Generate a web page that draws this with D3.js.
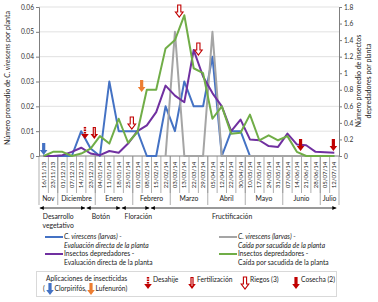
<!DOCTYPE html>
<html><head><meta charset="utf-8">
<script src="https://cdn.jsdelivr.net/npm/d3@7"></script>
<style>
body{margin:0;background:#fff}
svg{display:block;font-family:Lato,'Liberation Sans',Arial,sans-serif;fill:#000}
</style>
</head><body><svg id="c" width="378" height="302"></svg>
<script>
// ---------- data ----------
const dates = ["16/11/13","23/11/13","01/12/13","07/12/13","14/12/13","23/12/13","04/01/14","11/01/14","18/01/14","25/01/14",
  "01/02/14","08/02/14","15/02/14","22/02/14","03/03/14","13/03/14","22/03/14","29/03/14","05/04/14","12/04/14",
  "22/04/14","30/04/14","10/05/14","17/05/14","24/05/14","31/05/14","07/06/14","14/06/14","21/06/14","28/06/14",
  "05/07/14","12/07/14"];
const monthNames = ["Nov","Diciembre","Enero","Febrero","Marzo","Abril","Mayo","Junio","Julio"];
const monthCounts = [2,4,4,4,4,4,4,4,2];
// C. virescens (larvas) - Evaluación directa (left axis)
const larvaeDirect = [0,0,0,0,0.01,0.003,0,0.03,0.01,0.01,0.01,0,0,0.02,0.01,0.03,0.02,0.02,0.04,0,0.01,0.01,0,0,0,0,0,0,0,0,0,0];
// C. virescens (larvas) - Caída por sacudida (left axis)
const larvaeShake = [null,null,null,null,null,null,null,null,null,null,null,null,null,0,0.05,0,0,0,0.05,0,0,0,0,0,0,0,0,0,0,0,0,0];
// Insectos depredadores - Evaluación directa (right axis)
const predDirect = [0,0,0.01,0.05,0.1,0.03,0.01,0.06,0.04,0.15,0.3,0.37,0.53,0.85,0.73,0.65,1.28,0.96,0.76,0.6,0.3,0.44,0.2,0.19,0.12,0.11,0.27,0.14,0.13,0.05,0.045,0.04];
// Insectos depredadores - Caída por sacudida (right axis)
const predShake = [0,0.05,0.05,0,0.03,0.09,0.24,0.15,0.45,0.16,0.29,0.8,0.8,1.3,1.4,1.7,1.06,1.0,0.45,0.6,0.27,0.28,0.5,0.19,0.25,0.19,0.24,0.05,0,0,0,0];
const leftTicks = [0,0.01,0.02,0.03,0.04,0.05,0.06];
const rightTicks = [0,0.2,0.4,0.6,0.8,1,1.2,1.4,1.6,1.8];
// phenological phases, in category units
const phaseNames = [["Desarrollo","vegetativo"],["Botón"],["Floración"],["Fructificación"]];
const phaseStart = [0,5,8.75,11.85];
const phaseEnd = [5,8.75,11.85,31.8];
const phaseLabelAt = [2.05,6.6,10.6,20.6];
// event arrows: type, position (category units), top (left-axis value)
const eventTypes = ["clorpirifos","desahije","fertilizacion","riego","lufenuron","riego","riego","cosecha","cosecha"];
const eventAt = [0.5,4.9,5.9,9.9,10.95,14.96,17.0,27.9,31.4];
const eventTop = [0.0052,0.0117,0.0117,0.0157,0.0306,0.0608,0.0455,0.0068,0.0068];

// ---------- chart ----------
const svg = d3.select("#c");
const L = 39, R = 339, T = 7, B = 156;
const x = d3.scaleBand().domain(dates).range([L,R]).padding(0);
const xu = d3.scaleLinear().domain([0,dates.length]).range([L,R]);
const yL = d3.scaleLinear().domain([0,0.06]).range([B,T]);
const yR = d3.scaleLinear().domain([0,1.8]).range([B,T]);
const cx = d => x(d) + x.bandwidth()/2;

// gridlines
svg.append("g").selectAll("line").data(leftTicks.slice(1)).join("line")
  .attr("x1",L).attr("x2",R).attr("y1",d=>yL(d)).attr("y2",d=>yL(d))
  .attr("stroke","#d9d9d9").attr("stroke-width",0.8);

// axes
const fmt = d => String(d);
const gl = svg.append("g").attr("transform",`translate(${L},0)`)
  .call(d3.axisLeft(yL).tickValues(leftTicks).tickSize(3).tickPadding(2).tickFormat(fmt));
const gr = svg.append("g").attr("transform",`translate(${R},0)`)
  .call(d3.axisRight(yR).tickValues(rightTicks).tickSize(3).tickPadding(2).tickFormat(fmt));
[gl,gr].forEach(g=>{
  g.select(".domain").attr("stroke","#7f7f7f");
  g.selectAll(".tick line").attr("stroke","#7f7f7f");
  g.selectAll("text").attr("font-size",6.6).attr("fill","#333").attr("font-family","Lato,'Liberation Sans',sans-serif");
});

// bottom category axis
const gb = svg.append("g").attr("transform",`translate(0,${B})`)
  .call(d3.axisBottom(x).tickSize(0).tickPadding(0));
gb.select(".domain").remove();
gb.selectAll("text").attr("transform","translate(0,19) rotate(-90)").attr("y",0).attr("dy","0.35em")
  .attr("text-anchor","middle").attr("font-size",6.1).attr("fill","#222")
  .attr("font-family","Lato,'Liberation Sans',sans-serif");
svg.append("line").attr("x1",L).attr("x2",R).attr("y1",B).attr("y2",B).attr("stroke","#7f7f7f");
// separators between dates
svg.append("g").selectAll("line").data(d3.range(1,dates.length)).join("line")
  .attr("x1",d=>xu(d)).attr("x2",d=>xu(d)).attr("y1",B).attr("y2",193)
  .attr("stroke","#8c8c8c").attr("stroke-width",0.7);
// months
let acc = 0; const monthBounds=[0]; monthCounts.forEach(n=>{acc+=n; monthBounds.push(acc);});
svg.append("g").selectAll("line").data(monthBounds).join("line")
  .attr("x1",d=>xu(d)).attr("x2",d=>xu(d)).attr("y1",B).attr("y2",205)
  .attr("stroke","#8c8c8c").attr("stroke-width",0.7);
svg.append("g").selectAll("text").data(monthNames).join("text")
  .attr("x",(d,i)=>(xu(monthBounds[i])+xu(monthBounds[i+1]))/2).attr("y",201)
  .attr("text-anchor","middle").attr("font-size",6.8).attr("fill","#222").text(d=>d);

// phases
const pg = svg.append("g");
phaseStart.forEach((s,i)=>{
  const a = xu(s)+0.8, b = xu(phaseEnd[i])-0.8, yy = 208;
  pg.append("line").attr("x1",a).attr("x2",b).attr("y1",yy).attr("y2",yy).attr("stroke","#000").attr("stroke-width",0.8);
  pg.append("path").attr("d",`M${a},${yy}l4,-2l0,4z`).attr("fill","#000");
  pg.append("path").attr("d",`M${b},${yy}l-4,-2l0,4z`).attr("fill","#000");
  phaseNames[i].forEach((t,j)=>{
    pg.append("text").attr("x",xu(phaseLabelAt[i])).attr("y",219+j*9).attr("text-anchor","middle")
      .attr("font-size",6.8).attr("fill","#222").text(t);
  });
});

// series
const series = [
  {v:larvaeDirect, y:yL, c:"#4472c4"},
  {v:larvaeShake, y:yL, c:"#a5a5a5"},
  {v:predDirect, y:yR, c:"#7030a0"},
  {v:predShake, y:yR, c:"#70ad47"},
];
series.forEach(s=>{
  const line = d3.line().defined(d=>d[1]!==null).x(d=>cx(d[0])).y(d=>s.y(d[1]));
  svg.append("path").datum(dates.map((d,i)=>[d,s.v[i]])).attr("d",line)
    .attr("fill","none").attr("stroke",s.c).attr("stroke-width",2).attr("stroke-linejoin","round");
});

// arrow glyphs
const RED="#c00000", BLUE="#4472c4", ORANGE="#ed7d31";
function arrow(g,xc,top,type){
  const h=12, hh=5, hw=3.8, sw=1.6;
  const p=`M${xc-sw},${top}L${xc+sw},${top}L${xc+sw},${top+h-hh}L${xc+hw},${top+h-hh}L${xc},${top+h}L${xc-hw},${top+h-hh}L${xc-sw},${top+h-hh}Z`;
  if(type==="desahije"){
    [0,2.5,5].forEach(o=>g.append("rect").attr("x",xc-1.2).attr("y",top+o).attr("width",2.4).attr("height",1.6).attr("fill",RED));
    g.append("path").attr("d",`M${xc-hw},${top+h-hh}L${xc+hw},${top+h-hh}L${xc},${top+h}Z`).attr("fill",RED);
  } else if(type==="riego"){
    g.append("path").attr("d",p).attr("fill","#fff").attr("stroke",RED).attr("stroke-width",1.1);
  } else if(type==="fertilizacion"){
    g.append("path").attr("d",p).attr("fill",RED);
    g.append("line").attr("x1",xc).attr("x2",xc).attr("y1",top+1).attr("y2",top+h-3).attr("stroke","#fff").attr("stroke-width",0.8);
  } else {
    const col = type==="clorpirifos"?BLUE:type==="lufenuron"?ORANGE:RED;
    g.append("path").attr("d",p).attr("fill",col);
  }
}
const ag = svg.append("g");
eventTypes.forEach((t,i)=>arrow(ag,xu(eventAt[i]),yL(eventTop[i]),t));

// axis titles
const lt = svg.append("text").attr("transform","translate(10,78) rotate(-90)").attr("text-anchor","middle")
  .attr("font-size",7).attr("fill","#222");
lt.append("tspan").text("Número promedio de ");
lt.append("tspan").attr("font-style","italic").text("C. virescens");
lt.append("tspan").text(" por planta");
["Número promedio de insectos","depredadores por planta"].forEach((t,i)=>{
  svg.append("text").attr("transform",`translate(${361+i*10},81) rotate(-90)`).attr("text-anchor","middle")
    .attr("font-size",7).attr("fill","#222").text(t);
});

// legend
const legItems = [
  {c:"#4472c4", x:45, y:237, lines:["C. virescens (larvas) -","Evaluación directa de la planta"], it:true},
  {c:"#a5a5a5", x:219, y:237, lines:["C. virescens (larvas) -","Caída por sacudida de la planta"], it:true},
  {c:"#7030a0", x:45, y:254, lines:["Insectos depredadores -","Evaluación directa de la planta"], it:false},
  {c:"#70ad47", x:219, y:254, lines:["Insectos depredadores -","Caída por sacudida de la planta"], it:false},
];
const lg = svg.append("g");
legItems.forEach(d=>{
  lg.append("line").attr("x1",d.x).attr("x2",d.x+18).attr("y1",d.y).attr("y2",d.y).attr("stroke",d.c).attr("stroke-width",2);
  d.lines.forEach((t,j)=>lg.append("text").attr("x",d.x+19).attr("y",d.y+2.3+j*8.2).attr("font-size",6.7)
    .attr("font-style",d.it?"italic":"normal").attr("fill","#222").text(t));
});

// event key box
const kb = svg.append("g");
kb.append("rect").attr("x",36.5).attr("y",271.5).attr("width",300).attr("height",25).attr("fill","#fff").attr("stroke","#d9d9d9");
kb.append("text").attr("x",46).attr("y",281).attr("font-size",6.7).attr("fill","#222").text("Aplicaciones de insecticidas");
kb.append("text").attr("x",43).attr("y",291).attr("font-size",6.7).attr("fill","#222").text("(");
arrow(kb,50,283,"clorpirifos");
kb.append("text").attr("x",54.5).attr("y",291).attr("font-size",6.7).attr("fill","#222").text("Clorpirifós,");
arrow(kb,91,283,"lufenuron");
kb.append("text").attr("x",95.5).attr("y",291).attr("font-size",6.7).attr("fill","#222").text("Lufenurón)");
const keys = [["desahije",148,"Desahije"],["fertilizacion",192,"Fertilización"],["riego",245,"Riegos (3)"],["cosecha",296,"Cosecha (2)"]];
keys.forEach(k=>{
  arrow(kb,k[1],277,k[0]);
  kb.append("text").attr("x",k[1]+5).attr("y",282).attr("font-size",6.7).attr("fill","#222").text(k[2]);
});
</script>
</body></html>
